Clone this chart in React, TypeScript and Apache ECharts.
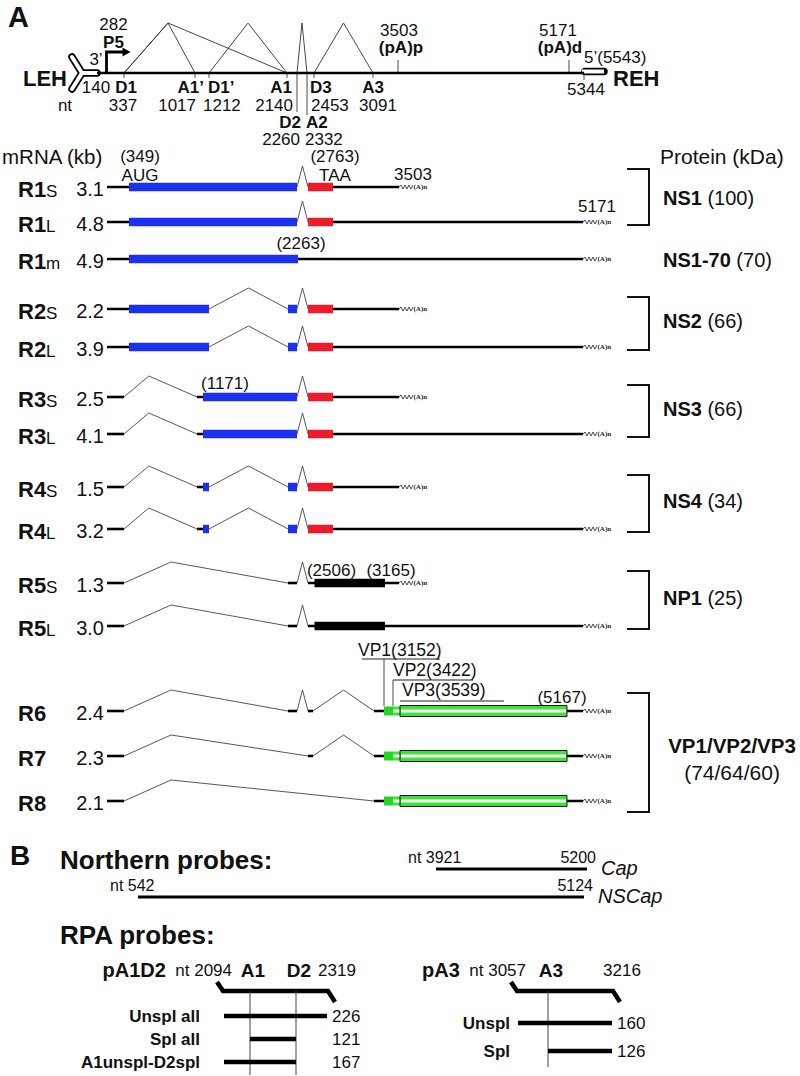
import React, { useEffect, useRef } from "react";
import * as echarts from "echarts";

// ===================== DATA =====================
// Genome map (nucleotide positions)
const GENOME_ENDS = [140, 5344];
const GENOME_LENGTH = 5543;
const P5_NT = 282;
const SITE_NAMES = ["D1", "A1’", "D1’", "A1", "D2", "A2", "D3", "A3"];
const SITE_NT = [337, 1017, 1212, 2140, 2260, 2332, 2453, 3091];
const PA_NAMES = ["(pA)p", "(pA)d"];
const PA_NT = [3503, 5171];
const GENOME_INTRONS = [[337, 1017], [337, 2140], [1212, 2140], [2260, 2332], [2453, 3091]];

// Transcripts
const TX_NAMES = ["R1", "R1", "R1", "R2", "R2", "R3", "R3", "R4", "R4", "R5", "R5", "R6", "R7", "R8"];
const TX_SUB = ["S", "L", "m", "S", "L", "S", "L", "S", "L", "S", "L", "", "", ""];
const TX_KB = [3.1, 4.8, 4.9, 2.2, 3.9, 2.5, 4.1, 1.5, 3.2, 1.3, 3.0, 2.4, 2.3, 2.1];
const TX_EXONS = [
  [[282, 2260], [2332, 3503]],
  [[282, 2260], [2332, 5171]],
  [[282, 5171]],
  [[282, 1212], [2140, 2260], [2332, 3503]],
  [[282, 1212], [2140, 2260], [2332, 5171]],
  [[282, 337], [1017, 2260], [2332, 3503]],
  [[282, 337], [1017, 2260], [2332, 5171]],
  [[282, 337], [1017, 1212], [2140, 2260], [2332, 3503]],
  [[282, 337], [1017, 1212], [2140, 2260], [2332, 5171]],
  [[282, 337], [2140, 2260], [2332, 3503]],
  [[282, 337], [2140, 2260], [2332, 5171]],
  [[282, 337], [2140, 2260], [2332, 2453], [3091, 5171]],
  [[282, 337], [2332, 2453], [3091, 5171]],
  [[282, 337], [3091, 5171]],
];
const TX_ORFS: any[] = [
  [[349, 2260, "NS"], [2332, 2763, "NSC"]],
  [[349, 2260, "NS"], [2332, 2763, "NSC"]],
  [[349, 2263, "NS"]],
  [[349, 1212, "NS"], [2140, 2260, "NS"], [2332, 2763, "NSC"]],
  [[349, 1212, "NS"], [2140, 2260, "NS"], [2332, 2763, "NSC"]],
  [[1171, 2260, "NS"], [2332, 2763, "NSC"]],
  [[1171, 2260, "NS"], [2332, 2763, "NSC"]],
  [[1171, 1212, "NS"], [2140, 2260, "NS"], [2332, 2763, "NSC"]],
  [[1171, 1212, "NS"], [2140, 2260, "NS"], [2332, 2763, "NSC"]],
  [[2506, 3165, "NP"]],
  [[2506, 3165, "NP"]],
  [[3152, 5167, "VP"]],
  [[3152, 5167, "VP"]],
  [[3152, 5167, "VP"]],
];
const VP_NAMES = ["VP1", "VP2", "VP3"];
const VP_START_NT = [3152, 3422, 3539];

// Annotated coordinates on transcripts
const MARK_ROW = [0, 0, 0, 1, 2, 5, 9, 9, 11];
const MARK_NT = [349, 2763, 3503, 5171, 2263, 1171, 2506, 3165, 5167];
const MARK_TEXT = ["(349)", "(2763)", "3503", "5171", "(2263)", "(1171)", "(2506)", "(3165)", "(5167)"];
const MARK_CODON = ["AUG", "TAA", "", "", "", "", "", "", ""];

// Proteins
const PROTEIN_NAMES = ["NS1", "NS1-70", "NS2", "NS3", "NS4", "NP1", "VP1/VP2/VP3"];
const PROTEIN_KDA = ["100", "70", "66", "66", "34", "25", "74/64/60"];
const PROTEIN_ROWS = [[0, 1], [2, 2], [3, 4], [5, 6], [7, 8], [9, 10], [11, 13]];

// Northern probes
const NORTHERN_NAMES = ["Cap", "NSCap"];
const NORTHERN_FROM = [3921, 542];
const NORTHERN_TO = [5200, 5124];

// RPA probes
const RPA_NAMES = ["pA1D2", "pA3"];
const RPA_FROM = [2094, 3057];
const RPA_TO = [2319, 3216];
const RPA_SITE_NAMES = [["A1", "D2"], ["A3"]];
const RPA_SITE_NT = [[2140, 2260], [3091]];
const RPA_PRODUCT_NAMES = [["Unspl all", "Spl all", "A1unspl-D2spl"], ["Unspl", "Spl"]];
const RPA_PRODUCT_FROM = [[2094, 2140, 2094], [3057, 3091]];
const RPA_PRODUCT_TO = [[2319, 2260, 2260], [3216, 3216]];
const RPA_PRODUCT_NT = [[226, 121, 167], [160, 126]];

// ===================== LAYOUT (schematic, not to scale) =====================
const GENOME_SCALE = [[140, 97], [282, 107], [337, 124], [1017, 195], [1212, 209], [2140, 287], [2260, 297], [2332, 307], [2453, 314], [3091, 373], [3503, 398], [5171, 569], [5344, 584], [5543, 607]];
const ROW_SCALE = [[282, 107], [337, 124], [349, 129], [1017, 197], [1171, 203], [1212, 209], [2140, 288], [2260, 297], [2263, 298], [2332, 308], [2453, 313], [2506, 314.5], [2763, 333], [3091, 374], [3152, 384], [3165, 385], [3422, 393], [3503, 399], [3539, 400], [5167, 567], [5171, 583]];
const PROBE_SCALE = [[542, 138], [3921, 436], [5124, 584], [5200, 587]];
const RPA_SCALES = [
  [[2094, 224], [2140, 250], [2260, 296], [2319, 327]],
  [[3057, 518], [3091, 548], [3216, 612]],
];
const ROW_Y = [187, 222, 259, 309, 347, 397, 434, 487, 529, 583, 626, 711, 756, 801];
const GENOME_Y = 73;
const SITE_ALIGN = ["center", "right", "left", "right", "right", "left", "left", "center"];
const SITE_NAME_DX = [2, 9, -1, 5, 4, -1, -4, 0];
const SITE_NUM_DX = [-1, 1, -6, 6, 3, -2, -3, 5];
const SITE_NAME_Y = [87, 87, 87, 87, 122, 122, 87, 87];
const SITE_NUM_Y = [105, 105, 105, 105, 139, 139, 105, 105];
const PA_DX = [1, -11];
const MARK_DX = [11, 2, 14, 14, 3, 22, 17, 6, -5];
const MARK_DY = [-31, -31, -13, -16, -16, -14, -13, -13, -14];
const VP_LABEL_DX = [-26, 0, 2];
const VP_LINE = [[-22, 56], [0, 80], [0, 104]];
const NORTHERN_Y = [869, 897];
const RPA_PRODUCT_Y = [[1016, 1039, 1062], [1023, 1051]];
const RPA_LABEL_RIGHT = [200, 510];
const RPA_SITE_LINE_END = [1075, 1067];

const FONT = "'Liberation Sans', Arial, Helvetica, sans-serif";
const BLUE = "#1b30f0";
const RED = "#ee1c2b";
const GREEN = "#3fe03f";

function interp(scale: number[][], v: number): number {
  const n = scale.length;
  let a = scale[0], b = scale[1];
  if (v > scale[0][0]) {
    let found = false;
    for (let i = 1; i < n; i++) {
      if (v <= scale[i][0]) { a = scale[i - 1]; b = scale[i]; found = true; break; }
    }
    if (!found) { a = scale[n - 2]; b = scale[n - 1]; }
  }
  return a[1] + ((v - a[0]) * (b[1] - a[1])) / (b[0] - a[0]);
}
const gx = (nt: number) => interp(GENOME_SCALE, nt);
const rx = (nt: number) => interp(ROW_SCALE, nt);
const px = (nt: number) => interp(PROBE_SCALE, nt);

function kit(api: any) {
  const c = (x: number, y: number) => api.coord([x, y]);
  return {
    line(x1: number, y1: number, x2: number, y2: number, stroke = "#000", w = 1, cap = "butt") {
      const p = c(x1, y1), q = c(x2, y2);
      return { type: "line", shape: { x1: p[0], y1: p[1], x2: q[0], y2: q[1] }, style: { stroke, lineWidth: w, lineCap: cap } };
    },
    poly(pts: number[][], stroke = "#000", w = 1, extra: any = {}) {
      return { type: "polyline", shape: { points: pts.map(([x, y]) => c(x, y)) }, style: { stroke, fill: null, lineWidth: w, lineJoin: "round", ...extra } };
    },
    polygon(pts: number[][], fill: string) {
      return { type: "polygon", shape: { points: pts.map(([x, y]) => c(x, y)) }, style: { fill } };
    },
    rect(x1: number, y1: number, x2: number, y2: number, style: any) {
      const p = c(x1, y1), q = c(x2, y2);
      return { type: "rect", shape: { x: Math.min(p[0], q[0]), y: Math.min(p[1], q[1]), width: Math.abs(q[0] - p[0]), height: Math.abs(q[1] - p[1]) }, style };
    },
    text(x: number, y: number, text: string, o: any = {}) {
      const p = c(x, y);
      return {
        type: "text", x: p[0], y: p[1],
        style: {
          text, fill: o.fill || "#111", fontFamily: o.family || FONT, fontSize: o.size || 17,
          fontWeight: o.bold ? "bold" : "normal", fontStyle: o.italic ? "italic" : "normal",
          align: o.align || "left", verticalAlign: "middle", rich: o.rich,
        },
      };
    },
  };
}

function renderGenome(_p: any, api: any) {
  const K = kit(api);
  const Y = GENOME_Y;
  const ch: any[] = [];
  const x0 = gx(GENOME_ENDS[0]), x1 = gx(GENOME_ENDS[1]), x2 = gx(GENOME_LENGTH);
  // splice arcs
  GENOME_INTRONS.forEach(([d, a]) => {
    const xd = gx(d), xa = gx(a);
    const pk = d === SITE_NT[0] ? xd + 44 : (xd + xa) / 2;
    ch.push(K.poly([[xd, Y], [pk, 23], [xa, Y]], "#333", 0.9));
  });
  // site ticks + labels
  SITE_NT.forEach((nt, i) => {
    const x = gx(nt);
    const long = SITE_NAME_Y[i] > 110;
    ch.push(K.line(x, Y, x, long ? (i === 4 ? 112 : 115) : Y + 5, "#333", 0.9));
    ch.push(K.text(x + SITE_NAME_DX[i], SITE_NAME_Y[i], SITE_NAMES[i], { bold: true, align: SITE_ALIGN[i] }));
    ch.push(K.text(x + SITE_NUM_DX[i], SITE_NUM_Y[i], String(nt), { align: SITE_ALIGN[i] }));
  });
  // polyA sites
  PA_NT.forEach((nt, i) => {
    const x = gx(nt);
    ch.push(K.line(x, Y - 13, x, Y, "#333", 0.9));
    ch.push(K.text(x + PA_DX[i], 30, String(nt), { align: "center" }));
    ch.push(K.text(x + PA_DX[i] + 2, 47, PA_NAMES[i], { bold: true, align: "center" }));
  });
  // LEH hairpin
  const hx = x0 - 15;
  const arms = [[hx - 10, Y - 16], [hx, Y], [hx - 10, Y + 16]];
  ch.push(K.poly(arms, "#000", 7.5, { lineCap: "round" }));
  ch.push(K.line(hx, Y, x0, Y, "#000", 7.5, "round"));
  ch.push(K.poly(arms, "#fff", 4, { lineCap: "round" }));
  ch.push(K.line(hx, Y, x0 + 1, Y, "#fff", 4, "butt"));
  // REH hairpin
  ch.push(K.line(x1 + 1, Y - 1.5, x2 - 3, Y - 1.5, "#000", 7.5, "round"));
  ch.push(K.line(x1 - 2, Y - 1.5, x2 - 3, Y - 1.5, "#fff", 4, "butt"));
  // genome line
  ch.push(K.line(x0, Y, x1, Y, "#000", 2.6));
  ch.push(K.line(x1, Y, x1, Y + 7, "#333", 0.9));
  // end labels
  ch.push(K.text(67, Y + 5, "LEH", { bold: true, size: 22, align: "right" }));
  ch.push(K.text(x2 + 6, Y + 5, "REH", { bold: true, size: 22 }));
  ch.push(K.text(x0 - 1, 87, String(GENOME_ENDS[0]), { align: "center" }));
  ch.push(K.text(x1 + 2, 89, String(GENOME_ENDS[1]), { align: "center" }));
  ch.push(K.text(x1, 57, `5’(${GENOME_LENGTH})`, {}));
  ch.push(K.text(x0 - 1, 59, "3’", { align: "center" }));
  ch.push(K.text(65, 105, "nt", { align: "center" }));
  // P5 promoter arrow
  const p5 = gx(P5_NT) - 0.5;
  ch.push(K.poly([[p5, Y], [p5, 52], [p5 + 17, 52]], "#000", 2.8, { lineJoin: "miter" }));
  ch.push(K.polygon([[p5 + 16, 47.5], [p5 + 24, 52], [p5 + 16, 56.5]], "#000"));
  ch.push(K.text(p5 + 7, 42, "P5", { bold: true, align: "center" }));
  ch.push(K.text(p5 + 7, 24, String(P5_NT), { align: "center" }));
  return { type: "group", children: ch };
}

function tail(K: any, x: number, y: number) {
  const pts: number[][] = [[x, y]];
  for (let k = 1; k <= 7; k++) pts.push([x + k * 2, y + (k % 2 ? -2 : 2)]);
  return [
    K.poly(pts, "#222", 0.8),
    K.text(x + 14.5, y, "(A)n", { size: 7, bold: true, family: "'Liberation Serif', serif", fill: "#222" }),
  ];
}

function renderRow(_p: any, api: any) {
  const K = kit(api);
  const i = api.value(0);
  const y = ROW_Y[i];
  const ex = TX_EXONS[i];
  const ch: any[] = [];
  for (let k = 0; k < ex.length - 1; k++) {
    const d = ex[k][1], a = ex[k + 1][0];
    const xd = rx(d), xa = rx(a);
    const pk = d === SITE_NT[0] ? Math.min(xd + 0.34 * (xa - xd), xd + 47) : (xd + xa) / 2;
    ch.push(K.poly([[xd, y], [pk, y - 21], [xa, y]], "#444", 0.9));
  }
  ex.forEach(([s, e]) => ch.push(K.line(rx(s), y, rx(e), y, "#000", 2.6)));
  TX_ORFS[i].forEach(([s, e, kind]: any) => {
    const xs = rx(s), xe = rx(e);
    if (kind === "VP") {
      const x2 = rx(VP_START_NT[1]), x3 = rx(VP_START_NT[2]);
      ch.push(K.rect(xs, y - 4.5, x2, y + 4.5, { fill: "#22d622" }));
      ch.push(K.rect(x2, y - 4.5, x3, y + 4.5, { fill: GREEN }));
      ch.push(K.rect(x2, y - 1.5, x3, y + 1.5, { fill: "#eefee9" }));
      ch.push(K.rect(x3, y - 5.5, xe, y + 5.5, { fill: GREEN, stroke: "#1a1a1a", lineWidth: 1 }));
      ch.push(K.rect(x3 + 1, y - 1.5, xe - 1, y + 1.5, { fill: "#f3fff0" }));
    } else {
      const color = kind === "NS" ? BLUE : kind === "NSC" ? RED : "#000";
      ch.push(K.rect(xs, y - 4.25, xe, y + 4.25, { fill: color }));
    }
  });
  ch.push(...tail(K, rx(ex[ex.length - 1][1]), y));
  const rich = {
    n: { fontFamily: FONT, fontSize: 22, fontWeight: "bold", fill: "#111", verticalAlign: "bottom" },
    s: { fontFamily: FONT, fontSize: 17, fill: "#111", verticalAlign: "bottom" },
  };
  const lbl = TX_SUB[i] ? `{n|${TX_NAMES[i]}}{s|${TX_SUB[i]}}` : `{n|${TX_NAMES[i]}}`;
  ch.push(K.text(18, y + 2, lbl, { rich }));
  ch.push(K.text(104, y + 2, TX_KB[i].toFixed(1), { size: 20, align: "right" }));
  return { type: "group", children: ch };
}

function renderMark(_p: any, api: any) {
  const K = kit(api);
  const i = api.value(0);
  const y = ROW_Y[MARK_ROW[i]];
  const x = rx(MARK_NT[i]) + MARK_DX[i];
  const ch: any[] = [K.text(x, y + MARK_DY[i], MARK_TEXT[i], { align: "center" })];
  if (MARK_CODON[i]) ch.push(K.text(x, y - 12, MARK_CODON[i], { align: "center" }));
  return { type: "group", children: ch };
}

function renderVP(_p: any, api: any) {
  const K = kit(api);
  const i = api.value(0);
  const y = ROW_Y[PROTEIN_ROWS[6][0]];
  const x = rx(VP_START_NT[i]);
  const ty = y - 61 + i * 20;
  const ly = y - 52 + i * 21;
  const ch: any[] = [
    K.text(x + VP_LABEL_DX[i], ty, `${VP_NAMES[i]}(${VP_START_NT[i]})`, { size: 17.5 }),
    K.line(x + VP_LINE[i][0], ly, x + VP_LINE[i][1], ly, "#222", 1),
  ];
  if (i < 2) ch.push(K.line(x, ly, x, y - 5, "#333", 0.9));
  return { type: "group", children: ch };
}

function renderProtein(_p: any, api: any) {
  const K = kit(api);
  const i = api.value(0);
  const [r0, r1] = PROTEIN_ROWS[i];
  const ch: any[] = [];
  const many = r1 - r0 > 1;
  if (r1 > r0) {
    const top = ROW_Y[r0] - (many ? 18 : i === 0 ? 18 : 12);
    const bot = ROW_Y[r1] + (many ? 11 : 3);
    ch.push(K.poly([[627, top], [649, top], [649, bot], [627, bot]], "#111", 2, { lineJoin: "miter" }));
  }
  const mid = (ROW_Y[r0] + ROW_Y[r1]) / 2 - (r1 > r0 ? 7 : -1);
  if (many) {
    ch.push(K.text(732, mid - 4, PROTEIN_NAMES[i], { bold: true, size: 20.5, align: "center" }));
    ch.push(K.text(732, mid + 23, `(${PROTEIN_KDA[i]})`, { size: 21, align: "center" }));
  } else {
    const rich = {
      b: { fontFamily: FONT, fontSize: 20, fontWeight: "bold", fill: "#111" },
      r: { fontFamily: FONT, fontSize: 20, fill: "#111" },
    };
    ch.push(K.text(663, mid, `{b|${PROTEIN_NAMES[i]}}{r| (${PROTEIN_KDA[i]})}`, { rich }));
  }
  return { type: "group", children: ch };
}

function renderNorthern(_p: any, api: any) {
  const K = kit(api);
  const i = api.value(0);
  const y = NORTHERN_Y[i];
  const xs = px(NORTHERN_FROM[i]), xe = px(NORTHERN_TO[i]);
  return {
    type: "group",
    children: [
      K.line(xs, y, xe, y, "#000", 3),
      K.text(xs - 28, y - 12, `nt ${NORTHERN_FROM[i]}`, { size: 16 }),
      K.text(xe + 9, y - 12, String(NORTHERN_TO[i]), { size: 16, align: "right" }),
      K.text(xe + 14, y - 1, NORTHERN_NAMES[i], { size: 20, italic: true }),
    ],
  };
}

function renderRPA(_p: any, api: any) {
  const K = kit(api);
  const i = api.value(0);
  const sc = RPA_SCALES[i];
  const f = (nt: number) => interp(sc, nt);
  const xs = f(RPA_FROM[i]), xe = f(RPA_TO[i]);
  const ch: any[] = [];
  const rich = {
    b: { fontFamily: FONT, fontSize: 20, fontWeight: "bold", fill: "#111" },
    r: { fontFamily: FONT, fontSize: 17, fill: "#111" },
  };
  ch.push(K.text(xs + 8, 970, `{b|${RPA_NAMES[i]}}{r|  nt ${RPA_FROM[i]}}`, { rich, align: "right" }));
  ch.push(K.text(xe + 10, 970, String(RPA_TO[i]), { align: "center" }));
  ch.push(K.poly([[xs - 7, 982], [xs - 1, 991], [xe + 1, 991], [xe + 8, 1002]], "#000", 4.5, { lineJoin: "miter" }));
  RPA_SITE_NT[i].forEach((nt, k) => {
    const x = f(nt);
    ch.push(K.line(x, 991, x, RPA_SITE_LINE_END[i], "#444", 1));
    ch.push(K.text(x + 3, 970, RPA_SITE_NAMES[i][k], { bold: true, size: 19, align: "center" }));
  });
  RPA_PRODUCT_NAMES[i].forEach((nm, k) => {
    const y = RPA_PRODUCT_Y[i][k];
    ch.push(K.line(f(RPA_PRODUCT_FROM[i][k]), y, f(RPA_PRODUCT_TO[i][k]), y, "#000", 4.5));
    ch.push(K.text(RPA_LABEL_RIGHT[i], y, nm, { bold: true, align: "right" }));
    ch.push(K.text(xe + 5, y, String(RPA_PRODUCT_NT[i][k])));
  });
  return { type: "group", children: ch };
}

function buildOption(): any {
  const custom = (renderItem: any, n: number) => ({
    type: "custom", renderItem, silent: true, clip: false,
    data: Array.from({ length: n }, (_, i) => [i]),
  });
  const title = (left: number, top: number, text: string, size: number, bold = true) => ({
    type: "text", left, top,
    style: { text, fontFamily: FONT, fontSize: size, fontWeight: bold ? "bold" : "normal", fill: "#111" },
  });
  return {
    animation: false,
    backgroundColor: "#fff",
    grid: { left: 0, right: 0, top: 0, bottom: 0 },
    xAxis: { type: "value", min: 0, max: 800, show: false },
    yAxis: { type: "value", min: 0, max: 1076, inverse: true, show: false },
    graphic: [
      title(8, 2, "A", 29),
      title(10, 841, "B", 28),
      title(2, 146, "mRNA (kb)", 20.5, false),
      title(660, 146, "Protein (kDa)", 21, false),
      title(60, 847, "Northern probes:", 26),
      title(60, 922, "RPA probes:", 26),
    ],
    series: [
      custom(renderGenome, 1),
      custom(renderRow, TX_NAMES.length),
      custom(renderMark, MARK_NT.length),
      custom(renderVP, VP_NAMES.length),
      custom(renderProtein, PROTEIN_NAMES.length),
      custom(renderNorthern, NORTHERN_NAMES.length),
      custom(renderRPA, RPA_NAMES.length),
    ],
  };
}

export default function App() {
  const ref = useRef<HTMLDivElement>(null);
  useEffect(() => {
    const el = ref.current;
    if (!el) return;
    const chart = echarts.init(el, null, { renderer: "svg" });
    chart.setOption(buildOption());
    return () => chart.dispose();
  }, []);
  return (
    <div
      ref={ref}
      style={{ position: "absolute", left: 0, top: 0, width: 800, height: 1076, background: "#fff" }}
    />
  );
}
